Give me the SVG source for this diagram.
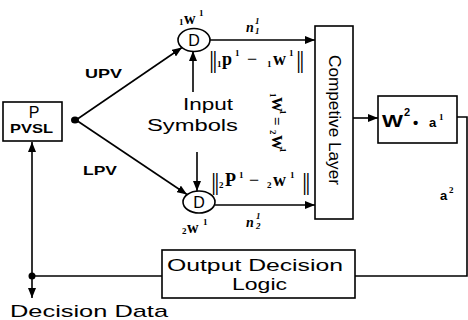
<svg xmlns="http://www.w3.org/2000/svg" width="468" height="320" viewBox="0 0 468 320">
<style>
.box{fill:#fff;stroke:#000;stroke-width:1.6}
.ln{fill:none;stroke:#000;stroke-width:1.6}
.sans{font-family:"Liberation Sans",Arial,sans-serif;fill:#000}
.b{font-weight:bold}
.ser{font-family:"Liberation Serif","Times New Roman",serif;font-weight:bold;fill:#000}
.bar{font-family:"Liberation Serif","Times New Roman",serif;font-size:26px;letter-spacing:-2px;fill:#000}
.sm{font-size:9px}
</style>
<defs>
<marker id="ah" viewBox="0 0 10 8" refX="10" refY="4" markerWidth="10" markerHeight="8" orient="auto" markerUnits="userSpaceOnUse">
<path d="M0,0 L10,4 L0,8 z" fill="#000"/>
</marker>
</defs>
<rect width="468" height="320" fill="#fff"/>

<g id="connectors">
<line class="ln" x1="76" y1="120" x2="182" y2="47.5" marker-end="url(#ah)"/>
<line class="ln" x1="76" y1="120" x2="187" y2="194.5" marker-end="url(#ah)"/>
<line class="ln" x1="193" y1="92" x2="193" y2="51" marker-end="url(#ah)"/>
<line class="ln" x1="197" y1="152" x2="197" y2="191" marker-end="url(#ah)"/>
<line class="ln" x1="210" y1="40" x2="315" y2="40" marker-end="url(#ah)"/>
<line class="ln" x1="215" y1="205" x2="315" y2="205" marker-end="url(#ah)"/>
<line class="ln" x1="353" y1="118" x2="378" y2="118" marker-end="url(#ah)"/>
<polyline class="ln" points="457,117 467,117 467,276 355,276"/>
<line class="ln" x1="162" y1="276" x2="32" y2="276"/>
<line class="ln" x1="32" y1="276" x2="32" y2="142" marker-end="url(#ah)"/>
<line class="ln" x1="32" y1="276" x2="32" y2="298" marker-end="url(#ah)"/>
<ellipse cx="75" cy="120" rx="4" ry="3.5" fill="#000"/>
<circle cx="32" cy="276" r="3.5" fill="#000"/>
</g>

<g id="node-p">
<rect class="box" x="3" y="102" width="59" height="39"/>
<text class="sans" x="34" y="118" font-size="16" text-anchor="middle">P</text>
<text class="sans b" x="10" y="133" font-size="12" textLength="43" lengthAdjust="spacingAndGlyphs">PVSL</text>
</g>

<g id="labels-pv">
<text class="sans b" x="85" y="78" font-size="13" textLength="37" lengthAdjust="spacingAndGlyphs">UPV</text>
<text class="sans b" x="83" y="175" font-size="13" textLength="34" lengthAdjust="spacingAndGlyphs">LPV</text>
</g>

<g id="node-d1">
<ellipse class="box" cx="194" cy="40" rx="16" ry="11.5"/>
<text class="sans" x="194" y="46" font-size="16" text-anchor="middle">D</text>
<text class="ser" font-size="16"><tspan x="179" y="25" class="sm">1</tspan><tspan x="184" y="24">w</tspan><tspan x="199" y="16" class="sm">1</tspan></text>
</g>

<g id="node-d2">
<ellipse class="box" cx="199" cy="202" rx="16" ry="11"/>
<text class="sans" x="199" y="208" font-size="16" text-anchor="middle">D</text>
<text class="ser" font-size="16"><tspan x="182" y="234" class="sm">2</tspan><tspan x="187" y="233">w</tspan><tspan x="203" y="225" class="sm">1</tspan></text>
</g>

<g id="node-input">
<text class="sans" x="183" y="110" font-size="16" textLength="50" lengthAdjust="spacingAndGlyphs">Input</text>
<text class="sans" x="147" y="131" font-size="16" textLength="91" lengthAdjust="spacingAndGlyphs">Symbols</text>
</g>

<g id="labels-norm">
<text class="bar" x="209" y="68">||</text>
<text class="ser" font-size="18"><tspan x="217" y="67" class="sm">1</tspan><tspan x="222" y="65">p</tspan><tspan x="235" y="56" class="sm">1</tspan><tspan x="247" y="65" font-weight="normal">−</tspan><tspan x="267" y="67" class="sm">1</tspan><tspan x="273" y="65">w</tspan><tspan x="289" y="56" class="sm">1</tspan></text>
<text class="bar" x="296" y="68">||</text>
<text class="bar" x="211" y="190">||</text>
<text class="ser" font-size="18"><tspan x="219" y="188" class="sm">2</tspan><tspan x="225" y="186">P</tspan><tspan x="239" y="178" class="sm">1</tspan><tspan x="249" y="186" font-weight="normal">−</tspan><tspan x="267" y="188" class="sm">2</tspan><tspan x="273" y="186">w</tspan><tspan x="290" y="178" class="sm">1</tspan></text>
<text class="bar" x="302" y="190">||</text>
<text class="ser" font-size="14" font-style="italic"><tspan x="246" y="32">n</tspan><tspan x="255" y="24" class="sm">1</tspan><tspan x="255" y="34" class="sm">1</tspan></text>
<text class="ser" font-size="14" font-style="italic"><tspan x="246" y="227">n</tspan><tspan x="256" y="219" class="sm">1</tspan><tspan x="256" y="229" class="sm">2</tspan></text>
<text class="ser" transform="translate(272,93) rotate(90)" font-size="15"><tspan x="0" y="2" class="sm">1</tspan><tspan x="4" y="0">W</tspan><tspan x="17" y="-8" class="sm">1</tspan><tspan x="24" y="0">=</tspan><tspan x="37" y="2" class="sm">2</tspan><tspan x="42" y="0">W</tspan><tspan x="55" y="-8" class="sm">1</tspan></text>
</g>

<g id="node-competitive">
<rect class="box" x="315" y="26" width="38" height="193"/>
<text class="sans" transform="translate(329,120) rotate(90)" x="0" y="0" font-size="16" text-anchor="middle" textLength="130" lengthAdjust="spacingAndGlyphs">Competive Layer</text>
</g>

<g id="node-w2">
<rect class="box" x="378" y="96" width="79" height="47"/>
<text class="sans b" x="382" y="127" font-size="17" textLength="21" lengthAdjust="spacingAndGlyphs">W</text>
<text class="sans b" x="404" y="116" font-size="11">2</text>
<text class="sans b" x="413" y="128" font-size="15">•</text>
<text class="sans b" x="429" y="127" font-size="13">a</text>
<text class="ser" x="439" y="120" font-size="9">1</text>
</g>

<g id="label-a2">
<text class="sans b" x="440" y="200" font-size="13">a</text>
<text class="ser" x="449" y="193" font-size="9">2</text>
</g>

<g id="node-output">
<rect class="box" x="162" y="250" width="193" height="48"/>
<text class="sans" x="167" y="271" font-size="16" textLength="176" lengthAdjust="spacingAndGlyphs">Output Decision</text>
<text class="sans" x="232" y="290" font-size="16" textLength="55" lengthAdjust="spacingAndGlyphs">Logic</text>
</g>

<g id="label-decision">
<text class="sans" x="10" y="317" font-size="17" textLength="158" lengthAdjust="spacingAndGlyphs">Decision Data</text>
</g>
</svg>
